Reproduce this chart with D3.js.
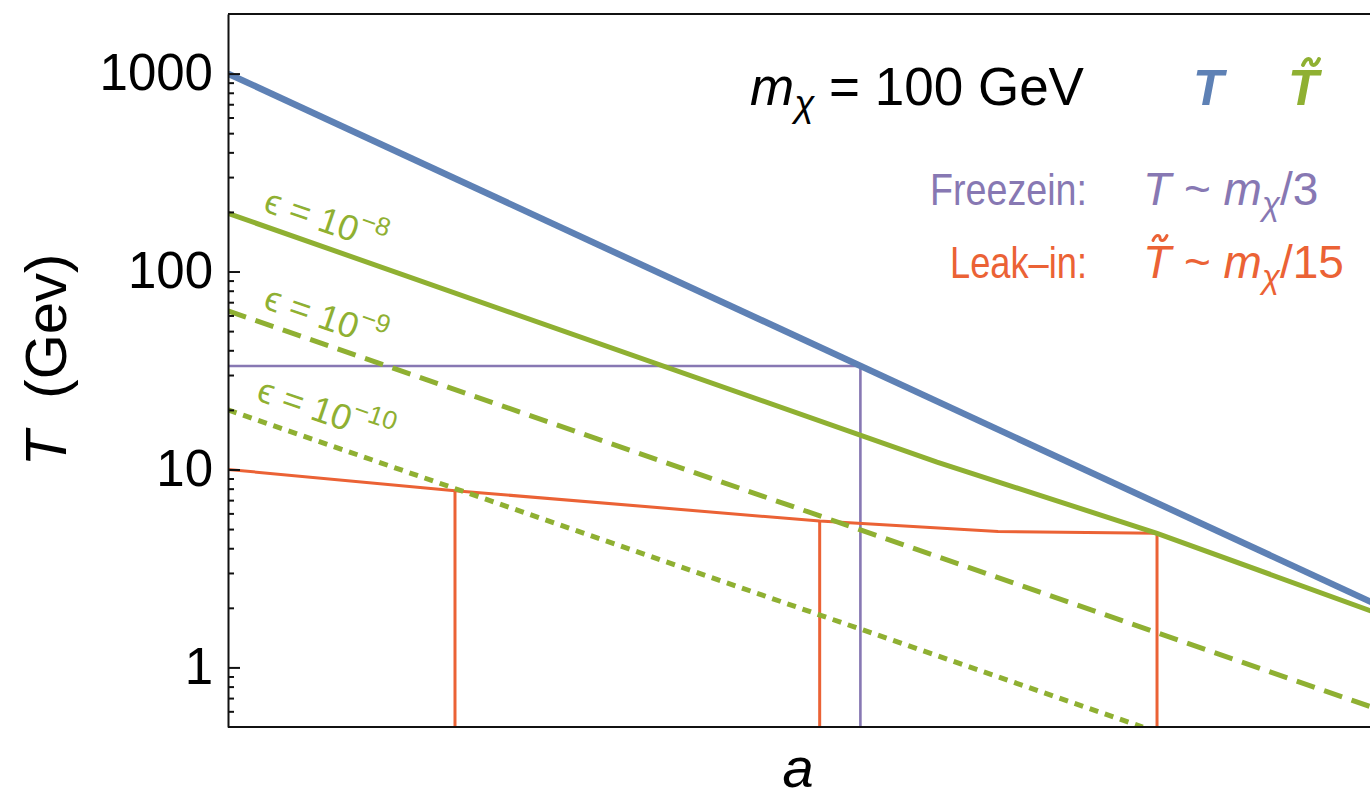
<!DOCTYPE html>
<html>
<head>
<meta charset="utf-8">
<script src="https://cdn.jsdelivr.net/npm/d3@7/dist/d3.min.js"></script>
<style>
  html, body { margin: 0; padding: 0; background: #fff; overflow: hidden; }
  svg { display: block; font-family: "Liberation Sans", Arial, sans-serif; }
</style>
</head>
<body>
<svg id="chart" width="1370" height="799"></svg>
<script>
// Scale factor a (log axis) and temperature limits
const aDomain = [1, 470];
const tDomain = [0.5, 2000];

// Visible-sector temperature T
const visA = [1, 470];
const visT = [1000, 2.13];

// Dark-sector temperature T~ for three couplings
const eps8A = [1, 45.3, 147.9, 470];
const eps8T = [196.7, 10.9, 4.76, 1.92];
const eps9A = [1, 470];
const eps9T = [63.2, 0.63];
const eps10A = [1, 137];
const eps10T = [20, 0.5];

// Freeze-in temperature m/3 reached at a = 30
const freezeA = 30;
const freezeT = 33.3;

// Leak-in curve and the points where it meets each T~ curve
const leakA = [1, 3.39, 24.1, 62.9, 147.9];
const leakT = [10, 7.81, 5.49, 4.86, 4.76];
const leakHitA = [3.39, 24.1, 147.9];
const leakHitT = [7.81, 5.49, 4.76];

// Tick values
const majorTicks = [1, 10, 100, 1000];
const minorTicks = [0.6, 0.7, 0.8, 0.9, 2, 3, 4, 5, 6, 7, 8, 9,
  20, 30, 40, 50, 60, 70, 80, 90, 200, 300, 400, 500, 600, 700, 800, 900];

const C = {
  blue: "#5E81B5",
  green: "#8FB032",
  red: "#EB6235",
  purple: "#8778B3"
};

const M = { left: 228, right: 1372, top: 14, bottom: 727 };
const svg = d3.select("#chart");

const x = d3.scaleLog().domain(aDomain).range([M.left, M.right]);
const y = d3.scaleLog().domain(tDomain).range([M.bottom, M.top]);

svg.append("defs").append("clipPath").attr("id", "plotClip")
  .append("rect").attr("x", M.left).attr("y", M.top)
  .attr("width", M.right - M.left).attr("height", M.bottom - M.top);

const plot = svg.append("g").attr("clip-path", "url(#plotClip)");
const line = d3.line().x(d => x(d[0])).y(d => y(d[1]));
const zip = (as, ts) => as.map((a, i) => [a, ts[i]]);

// Freeze-in marker
plot.append("path")
  .attr("d", line([[aDomain[0], freezeT], [freezeA, freezeT], [freezeA, tDomain[0]]]))
  .attr("fill", "none").attr("stroke", C.purple).attr("stroke-width", 2.6);

// Leak-in curve and drop lines
plot.append("path").attr("d", line(zip(leakA, leakT)))
  .attr("fill", "none").attr("stroke", C.red).attr("stroke-width", 3);
leakHitA.forEach((a, i) => {
  plot.append("path").attr("d", line([[a, leakHitT[i]], [a, tDomain[0]]]))
    .attr("fill", "none").attr("stroke", C.red).attr("stroke-width", 3);
});

// T~ curves
plot.append("path").attr("d", line(zip(eps8A, eps8T)))
  .attr("fill", "none").attr("stroke", C.green).attr("stroke-width", 5);
plot.append("path").attr("d", line(zip(eps9A, eps9T)))
  .attr("fill", "none").attr("stroke", C.green).attr("stroke-width", 5)
  .attr("stroke-dasharray", "19,10");
plot.append("path").attr("d", line(zip(eps10A, eps10T)))
  .attr("fill", "none").attr("stroke", C.green).attr("stroke-width", 5)
  .attr("stroke-dasharray", "9,7");

// Visible T
plot.append("path").attr("d", line(zip(visA, visT)))
  .attr("fill", "none").attr("stroke", C.blue).attr("stroke-width", 6.5);

// Frame
svg.append("path")
  .attr("d", `M${M.left},${M.top}H${M.right}M${M.left},${M.bottom}H${M.right}`)
  .attr("stroke", "#111").attr("stroke-width", 2).attr("fill", "none");

// Y axis with inward ticks
const yAxis = svg.append("g").attr("transform", `translate(${M.left},0)`)
  .call(d3.axisLeft(y).tickValues(majorTicks).tickFormat(d3.format("d"))
    .tickSizeInner(-12).tickSizeOuter(0).tickPadding(15));
yAxis.select(".domain").attr("stroke", "#111").attr("stroke-width", 2);
yAxis.selectAll(".tick line").attr("stroke", "#111").attr("stroke-width", 2);
yAxis.selectAll(".tick text").attr("font-size", 51).attr("fill", "#000")
  .attr("font-family", "Liberation Sans, Arial, sans-serif");

const yMinor = svg.append("g").attr("transform", `translate(${M.left},0)`)
  .call(d3.axisLeft(y).tickValues(minorTicks).tickFormat("")
    .tickSizeInner(-6).tickSizeOuter(0));
yMinor.select(".domain").remove();
yMinor.selectAll(".tick line").attr("stroke", "#111").attr("stroke-width", 2);

// Axis titles
const yTitle = svg.append("text")
  .attr("transform", "translate(66,360) rotate(-90)")
  .attr("text-anchor", "middle").attr("font-size", 58).attr("fill", "#000");
yTitle.append("tspan").attr("font-style", "italic").text("T");
yTitle.append("tspan").text("\u00a0\u00a0(Gev)");

svg.append("text").attr("x", 798).attr("y", 787)
  .attr("text-anchor", "middle").attr("font-size", 56)
  .attr("font-style", "italic").attr("fill", "#000").text("a");

// Small tilde accent drawn as a wave
function tilde(cx, cy, w, h, color, sw) {
  const p = d3.path();
  p.moveTo(cx - w / 2, cy + h / 2);
  p.bezierCurveTo(cx - w / 4, cy - h, cx, cy - h / 2, cx, cy);
  p.bezierCurveTo(cx, cy + h / 2, cx + w / 4, cy + h, cx + w / 2, cy - h / 2);
  svg.append("path").attr("d", p.toString()).attr("fill", "none")
    .attr("stroke", color).attr("stroke-width", sw).attr("stroke-linecap", "round");
}

// Mass label
const mLabel = svg.append("text").attr("x", 750).attr("y", 105)
  .attr("font-size", 53).attr("fill", "#000");
mLabel.append("tspan").attr("font-style", "italic").text("m");
mLabel.append("tspan").attr("font-style", "italic").attr("font-size", 37)
  .attr("dy", 11).text("\u03c7");
mLabel.append("tspan").attr("dy", -11).text(" = 100 GeV");

// Curve keys
svg.append("text").attr("x", 1193).attr("y", 105)
  .attr("font-size", 50).attr("font-weight", "bold").attr("font-style", "italic")
  .attr("fill", C.blue).text("T");
svg.append("text").attr("x", 1288).attr("y", 105)
  .attr("font-size", 50).attr("font-weight", "bold").attr("font-style", "italic")
  .attr("fill", C.green).text("T");
tilde(1311, 62, 16, 6, C.green, 4);

// Process labels
function formula(xPos, yPos, color, head, headLen, hasTilde, denom) {
  svg.append("text").attr("x", xPos).attr("y", yPos).attr("text-anchor", "end")
    .attr("font-size", 45).attr("fill", color)
    .attr("textLength", headLen).attr("lengthAdjust", "spacingAndGlyphs")
    .text(head);
  const t = svg.append("text").attr("x", xPos + 56).attr("y", yPos)
    .attr("font-size", 46).attr("fill", color);
  t.append("tspan").attr("font-style", "italic").text("T");
  t.append("tspan").text(" ~ ");
  t.append("tspan").attr("font-style", "italic").text("m");
  t.append("tspan").attr("font-style", "italic").attr("font-size", 33)
    .attr("dy", 10).text("\u03c7");
  t.append("tspan").attr("dy", -10).text("/" + denom);
  if (hasTilde) tilde(xPos + 73, yPos - 40, 14, 5, color, 3);
}
formula(1087, 205, C.purple, "Freezein:", 157, false, "3");
formula(1087, 278, C.red, "Leak\u2013in:", 137, true, "15");

// Coupling labels along the T~ curves
function epsLabel(xPos, yPos, exp) {
  const t = svg.append("text")
    .attr("transform", `translate(${xPos},${yPos}) rotate(19)`)
    .attr("font-size", 36).attr("fill", C.green);
  t.append("tspan").text("\u03f5 = 10");
  t.append("tspan").attr("font-size", 26).attr("dy", -16).text("\u2212" + exp);
}
epsLabel(262, 211, "8");
epsLabel(262, 308, "9");
epsLabel(255, 400, "10");
</script>
</body>
</html>
